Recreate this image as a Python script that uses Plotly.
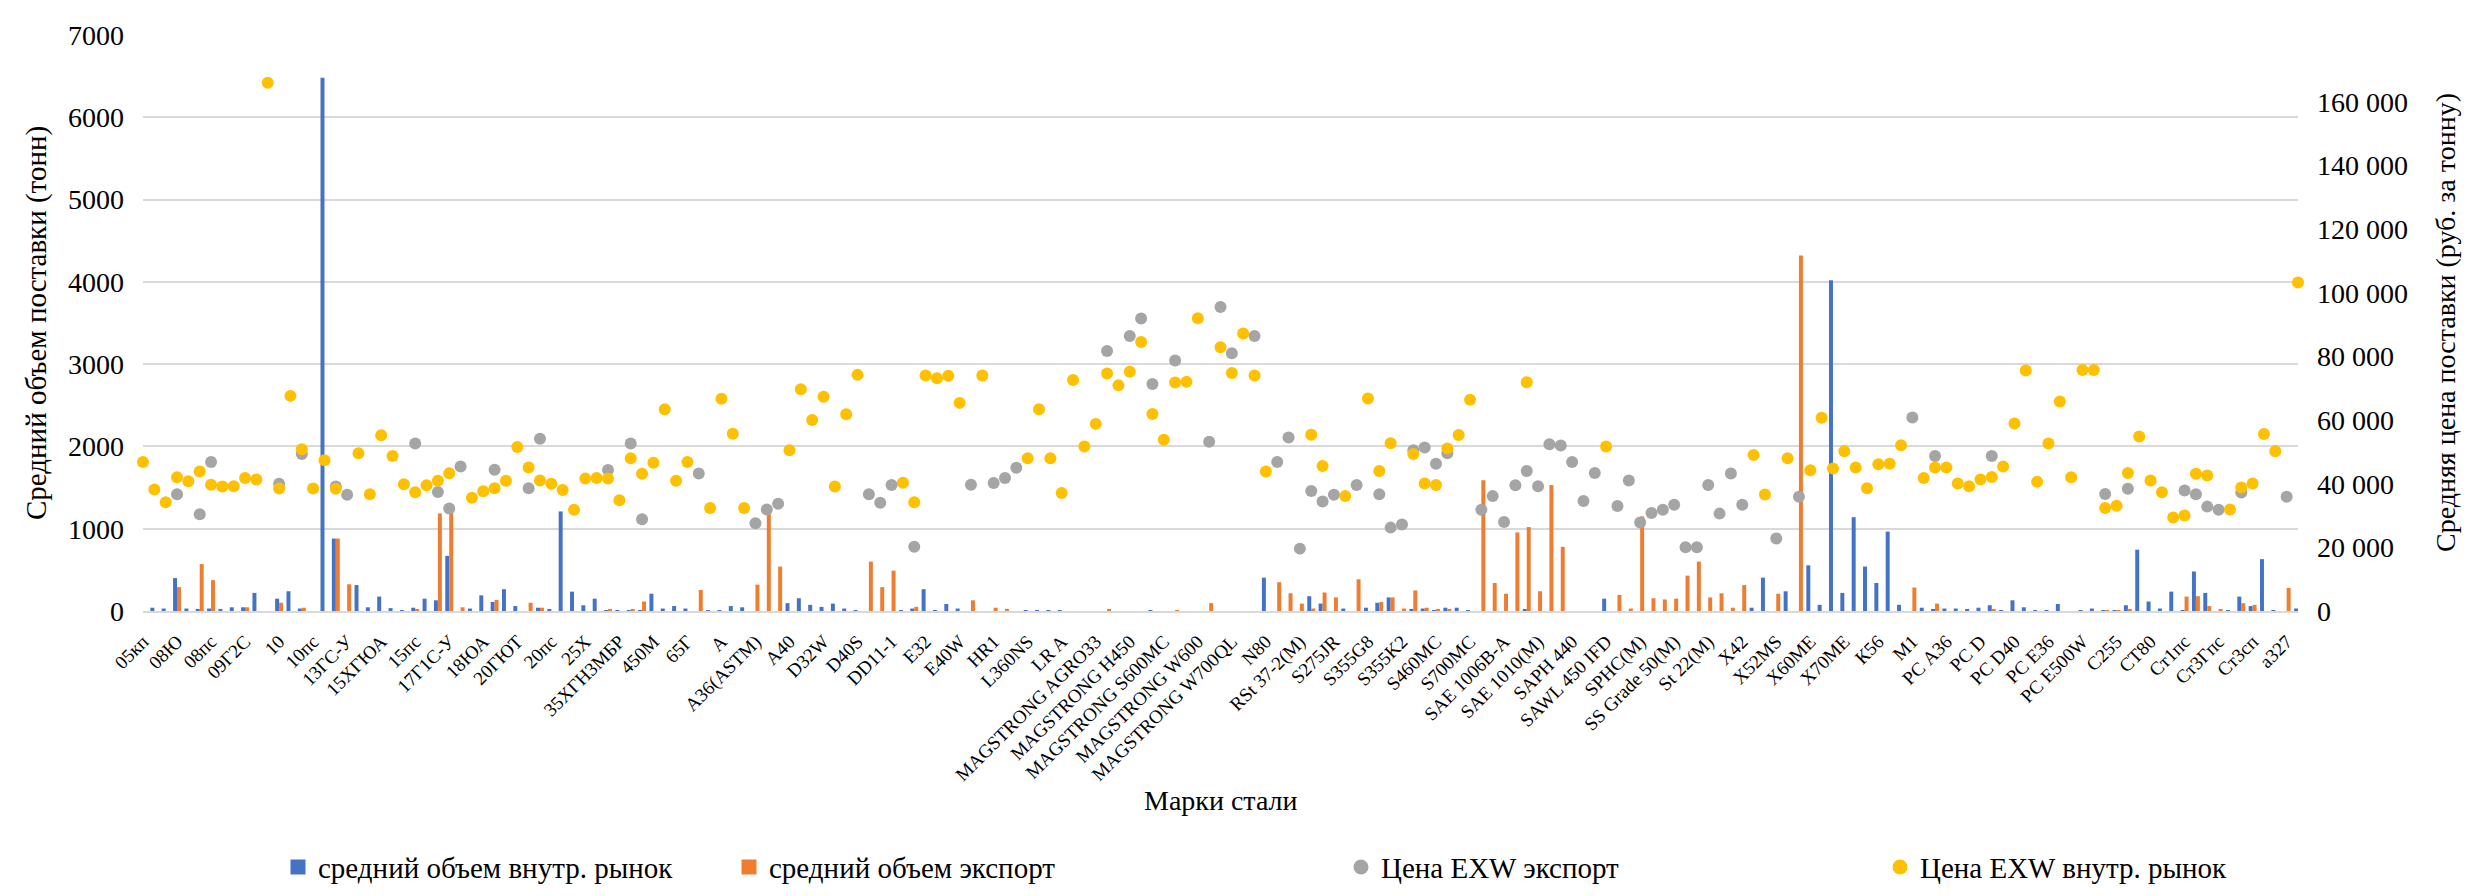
import plotly.graph_objects as go

# ---------------- data ----------------
tick_labels = ["05кп", "08Ю", "08пс", "09Г2С", "10", "10пс", "13ГС-У", "15ХГЮА", "15пс", "17Г1С-У",
               "18ЮА", "20ГЮТ", "20пс", "25Х", "35ХГН3МБР", "450М", "65Г", "A", "A36(ASTM)", "A40",
               "D32W", "D40S", "DD11-1", "E32", "E40W", "HR1", "L360NS", "LR A", "MAGSTRONG AGRO33",
               "MAGSTRONG H450", "MAGSTRONG S600MC", "MAGSTRONG W600", "MAGSTRONG W700QL", "N80",
               "RSt 37-2(M)", "S275JR", "S355G8", "S355K2", "S460MC", "S700MC", "SAE 1006B-A",
               "SAE 1010(M)", "SAPH 440", "SAWL 450 IFD", "SPHC(M)", "SS Grade 50(M)", "St 22(M)",
               "X42", "X52MS", "X60ME", "X70ME", "К56", "М1", "РС А36", "РС D", "РС D40", "РС E36",
               "РС E500W", "С255", "СТ80", "Ст1пс", "Ст3Гпс", "Ст3сп", "а327"]
label_step = 3

vol_domestic = [
    10, 40, 30, 400, 30, 15, 30, 25, 45, 45,
    220, 0, 150, 240, 30, 0, 6480, 880, 0, 315,
    45, 175, 35, 10, 40, 150, 130, 670, 0, 30,
    190, 110, 265, 60, 0, 40, 25, 1210, 235, 70,
    150, 5, 5, 5, 10, 210, 30, 60, 30, 0,
    8, 8, 60, 45, 0, 0, 0, 95, 155, 75,
    50, 90, 30, 5, 0, 0, 0, 5, 30, 265,
    5, 85, 30, 0, 0, 0, 0, 0, 8, 8,
    8, 8, 0, 0, 0, 0, 0, 0, 0, 5,
    0, 0, 0, 0, 0, 0, 0, 0, 0, 405,
    0, 0, 0, 180, 90, 0, 30, 0, 40, 100,
    165, 0, 25, 30, 10, 40, 40, 10, 0, 0,
    0, 0, 15, 0, 0, 0, 0, 0, 0, 150,
    0, 0, 0, 0, 0, 0, 0, 0, 0, 0,
    0, 0, 40, 405, 0, 240, 0, 555, 75, 4020,
    220, 1140, 540, 340, 965, 75, 0, 40, 25, 30,
    30, 15, 40, 70, 10, 130, 45, 10, 10, 85,
    0, 10, 30, 10, 10, 70, 745, 115, 30, 235,
    10, 480, 220, 0, 10, 175, 60, 630, 5, 0,
    30]

vol_export = [
    0, 0, 0, 290, 0, 570, 375, 0, 0, 45,
    0, 0, 100, 0, 40, 0, 0, 880, 325, 0,
    0, 0, 0, 0, 20, 0, 1185, 1200, 45, 0,
    0, 135, 0, 0, 100, 40, 0, 0, 0, 0,
    0, 25, 0, 25, 115, 0, 0, 0, 0, 255,
    0, 0, 0, 0, 320, 1180, 540, 0, 0, 0,
    0, 0, 0, 0, 600, 290, 490, 0, 50, 0,
    0, 0, 0, 130, 0, 40, 25, 0, 0, 0,
    0, 0, 0, 0, 0, 15, 0, 0, 0, 0,
    0, 10, 0, 0, 95, 0, 0, 0, 0, 0,
    350, 215, 90, 30, 225, 165, 0, 385, 0, 110,
    165, 30, 250, 40, 25, 25, 0, 0, 1590, 340,
    210, 955, 1020, 240, 1530, 780, 0, 0, 0, 0,
    195, 30, 1150, 155, 140, 150, 430, 600, 165, 215,
    40, 315, 0, 0, 210, 0, 4320, 0, 0, 0,
    0, 0, 0, 0, 0, 0, 285, 0, 90, 0,
    0, 0, 0, 25, 0, 0, 0, 0, 0, 0,
    0, 0, 0, 10, 10, 25, 0, 0, 0, 0,
    175, 180, 60, 25, 0, 95, 75, 0, 0, 280,
    0]

price_export = [
    None, None, None, 36700, None, 30400, 46800, None, None, None,
    None, None, 40000, None, 49300, None, None, 39100, 36500, None,
    None, None, None, None, 52600, None, 37400, 32200, 45400, None,
    None, 44400, None, None, 38600, 54100, None, None, None, None,
    None, 44300, None, 52600, 28800, None, None, None, None, 43200,
    None, None, None, None, 27600, 31900, 33700, None, None, None,
    None, None, None, None, 36700, 34000, 39600, None, 20200, None,
    None, None, None, 39700, None, 40200, 41800, 45000, None, None,
    None, None, None, None, None, 81700, None, 86400, 91900, 71300,
    None, 78700, None, None, 53200, 95500, 81000, None, 86400, None,
    46800, 54500, 19600, 37700, 34400, 36500, None, 39600, None, 36700,
    26200, 27200, 50500, 51400, 46300, 49600, None, None, 31800, 36100,
    28000, 39500, 44000, 39200, 52400, 52000, 46800, 34600, 43400, None,
    33000, 41000, 27800, 30800, 31800, 33400, 20000, 20000, 39600, 30600,
    43200, 33400, None, None, 22800, None, 35900, None, None, None,
    None, None, None, None, None, None, 60800, None, 48700, None,
    None, None, None, 48700, None, None, None, None, None, None,
    None, None, None, 36800, None, 38400, None, None, None, None,
    37900, 36700, 32800, 31800, None, 37200, None, None, None, 35900,
    None]

price_domestic = [
    46800, 38200, 34200, 42000, 40800, 43800, 39700, 39100, 39200, 41800,
    41300, 166000, 38500, 67600, 50800, 38500, 47400, 38400, None, 49600,
    36700, 55200, 48700, 39800, 37300, 39500, 40900, 43300, None, 35600,
    37600, 38600, 40900, 51500, 45100, 41000, 40000, 38000, 31800, 41600,
    41800, 41600, 34800, 48000, 43100, 46600, 63400, 40900, 46800, None,
    32400, 66700, 55700, 32400, None, None, None, 50500, 69700, 60000,
    67300, 39100, 61800, 74200, None, None, None, 40300, 34200, 74000,
    73100, 73900, 65400, None, 74000, None, None, None, 48000, 63400,
    48000, 37100, 72600, 51700, 58800, 74600, 70900, 75200, 84500, 61900,
    53800, 71800, 72000, 92000, None, 82900, 74800, 87200, 74000, 43800,
    None, None, None, 55400, 45600, None, 36100, None, 66800, 44000,
    52700, None, 49300, 40100, 39600, 51100, 55300, 66400, None, None,
    None, None, 71900, None, None, None, None, None, None, 51700,
    None, None, None, None, None, None, None, None, None, None,
    None, None, 49000, 36600, None, 48000, None, 44200, 60700, 44800,
    50200, 45100, 38600, 46100, 46300, 52100, None, 41800, 45100, 45100,
    40100, 39200, 41300, 42100, 45400, 58900, 75600, 40600, 52600, 65800,
    42000, 75700, 75700, 32400, 33100, 43400, 54800, 41000, 37300, 29400,
    30000, 43100, 42600, None, 31900, 38800, 40100, 55600, 50200, None,
    103200]

series_names = ["средний объем внутр. рынок", "средний объем экспорт",
                "Цена EXW экспорт", "Цена EXW внутр. рынок"]
right_ticks = [0, 20000, 40000, 60000, 80000, 100000, 120000, 140000, 160000]

# ---------------- figure ----------------
x = list(range(len(vol_domestic)))
tickvals = [i * label_step for i in range(len(tick_labels))]
right_text = ["0" if v == 0 else f"{v:,}".replace(",", " ") for v in right_ticks]

FONT = "Liberation Serif"
C_BLUE, C_ORANGE, C_GRAY, C_GOLD = "#4472C4", "#ED7D31", "#A5A5A5", "#FFC000"
colors = [C_BLUE, C_ORANGE, C_GRAY, C_GOLD]
legend_symbols = ["square", "square", "circle", "circle"]
legend_ids = ["legend", "legend2", "legend3", "legend4"]

fig = go.Figure()
fig.add_trace(go.Bar(x=x, y=vol_domestic, name=series_names[0], marker_color=C_BLUE,
                     marker_line_width=0, showlegend=False))
fig.add_trace(go.Bar(x=x, y=vol_export, name=series_names[1], marker_color=C_ORANGE,
                     marker_line_width=0, showlegend=False))
fig.add_trace(go.Scatter(x=x, y=price_export, name=series_names[2], mode="markers", yaxis="y2",
                         marker=dict(color=C_GRAY, size=12), cliponaxis=False, showlegend=False))
fig.add_trace(go.Scatter(x=x, y=price_domestic, name=series_names[3], mode="markers", yaxis="y2",
                         marker=dict(color=C_GOLD, size=12), cliponaxis=False, showlegend=False))

# legend-only entries (no data), so the legend keys can be sized like the original
for name, col, sym, lid in zip(series_names, colors, legend_symbols, legend_ids):
    fig.add_trace(go.Scatter(x=[None], y=[None], name=name, mode="markers",
                             marker=dict(color=col, size=15, symbol=sym),
                             legend=lid, showlegend=True, hoverinfo="skip"))

L, R, T, B = 135, 189, 20, 287
W, H = 2479, 896
pw = W - L - R
ph = H - T - B


def px_x(v):
    return (v - L) / pw


def px_y(v):
    return (H - B - v) / ph


leg_common = dict(orientation="h", yanchor="middle", y=px_y(871), xanchor="left",
                  itemsizing="trace",
                  font=dict(family=FONT, size=29, color="#000"), bgcolor="rgba(0,0,0,0)")
sym_x = [292, 743, 1355, 1894]

fig.update_layout(
    width=W, height=H,
    showlegend=True,
    margin=dict(l=L, r=R, t=T, b=B),
    plot_bgcolor="white", paper_bgcolor="white",
    font=dict(family=FONT, size=28, color="#000"),
    barmode="group", bargap=0.3, bargroupgap=0.0,
    xaxis=dict(range=[0, len(x) - 1], tickmode="array", tickvals=tickvals, ticktext=tick_labels,
               tickangle=-45, tickfont=dict(size=19, family=FONT, color="#000"), showgrid=False,
               showline=True, linecolor="#D9D9D9", linewidth=2, ticks="", zeroline=False,
               ticklabelstandoff=10),
    yaxis=dict(range=[0, 7000], dtick=1000, showgrid=True, gridcolor="#D9D9D9", gridwidth=2,
               zeroline=False, tickfont=dict(size=28, family=FONT, color="#000"),
               ticklabelstandoff=18),
    yaxis2=dict(range=[0, 181000], overlaying="y", side="right", tickmode="array",
                tickvals=right_ticks, ticktext=right_text, showgrid=False, zeroline=False,
                tickfont=dict(size=28, family=FONT, color="#000"), ticklabelstandoff=18),
    legend=dict(x=px_x(sym_x[0] - 22), **leg_common),
    legend2=dict(x=px_x(sym_x[1] - 22), **leg_common),
    legend3=dict(x=px_x(sym_x[2] - 22), **leg_common),
    legend4=dict(x=px_x(sym_x[3] - 22), **leg_common),
    annotations=[
        dict(text="Средний объем поставки (тонн)", xref="paper", yref="paper",
             x=px_x(28), y=0.5, xanchor="center", yanchor="middle", textangle=-90,
             showarrow=False, font=dict(family=FONT, size=29, color="#000")),
        dict(text="Средняя цена поставки (руб. за тонну)", xref="paper", yref="paper",
             x=px_x(2437), y=0.5, xanchor="center", yanchor="middle", textangle=-90,
             showarrow=False, font=dict(family=FONT, size=28, color="#000")),
        dict(text="Марки стали", xref="paper", yref="paper",
             x=0.5, y=px_y(803), xanchor="center", yanchor="middle",
             showarrow=False, font=dict(family=FONT, size=28, color="#000")),
    ],
)

fig.write_html("out.html")
